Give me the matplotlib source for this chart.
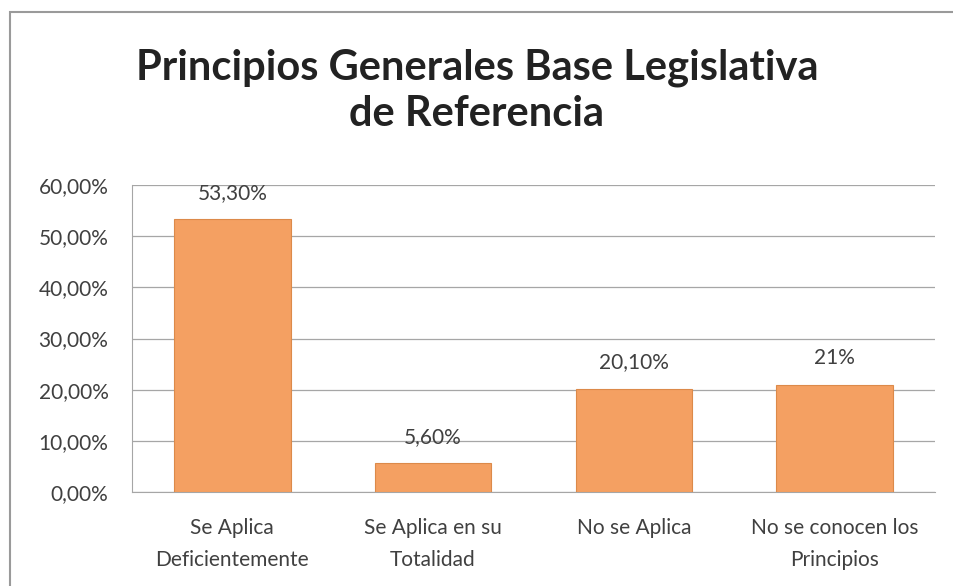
import matplotlib
matplotlib.use("Agg")
import matplotlib.pyplot as plt
from matplotlib.patches import Rectangle

categories = ["Se Aplica\nDeficientemente", "Se Aplica en su\nTotalidad", "No se Aplica", "No se conocen los\nPrincipios"]
values = [53.3, 5.6, 20.1, 21.0]
value_labels = ["53,30%", "5,60%", "20,10%", "21%"]
yticks = [0, 10, 20, 30, 40, 50, 60]
ytick_labels = ["0,00%", "10,00%", "20,00%", "30,00%", "40,00%", "50,00%", "60,00%"]
title = "Principios Generales Base Legislativa\nde Referencia"

plt.rcParams['font.family'] = ['Lato', 'DejaVu Sans']
fig = plt.figure(figsize=(9.54, 5.86), dpi=100)
fig.patch.set_facecolor('white')

# outer chart border
fig.add_artist(Rectangle((10/954, -0.05), 1.2, 1 - 12/586 + 0.05, transform=fig.transFigure,
                         fill=False, edgecolor='#9a9a9a', linewidth=1.5))

ax = fig.add_axes([132/954, 1 - 492/586, (935 - 132)/954, (492 - 185)/586])
x = list(range(len(categories)))
ax.bar(x, values, width=0.58, color='#F4A062', edgecolor='#DC8A4A', linewidth=0.8, zorder=3)
ax.set_xlim(-0.5, 3.5)
ax.set_ylim(0, 60)
ax.set_yticks(yticks)
ax.set_yticklabels(ytick_labels)
ax.set_xticks(x)
ax.set_xticklabels(categories)
ax.grid(axis='y', color='#a6a6a6', linewidth=0.9, zorder=0)
for s in ['top', 'right']:
    ax.spines[s].set_visible(False)
ax.spines['left'].set_color('#a6a6a6')
ax.spines['bottom'].set_color('#a6a6a6')
ax.tick_params(axis='y', length=0, pad=17, labelsize=15, labelcolor='#404040')
ax.tick_params(axis='x', length=0, pad=19, labelsize=15, labelcolor='#404040')
for lbl in ax.get_xticklabels():
    lbl.set_linespacing(1.7)

for xi, v, t in zip(x, values, value_labels):
    ax.annotate(t, (xi, v), xytext=(0, 12), textcoords='offset points', ha='center', va='bottom',
                fontsize=15, color='#404040')

fig.text(0.5, 1 - 91/586, title, ha='center', va='center', fontsize=30, fontweight='bold',
         color='#222222', linespacing=1.25)

fig.savefig('out.png', dpi=100)
